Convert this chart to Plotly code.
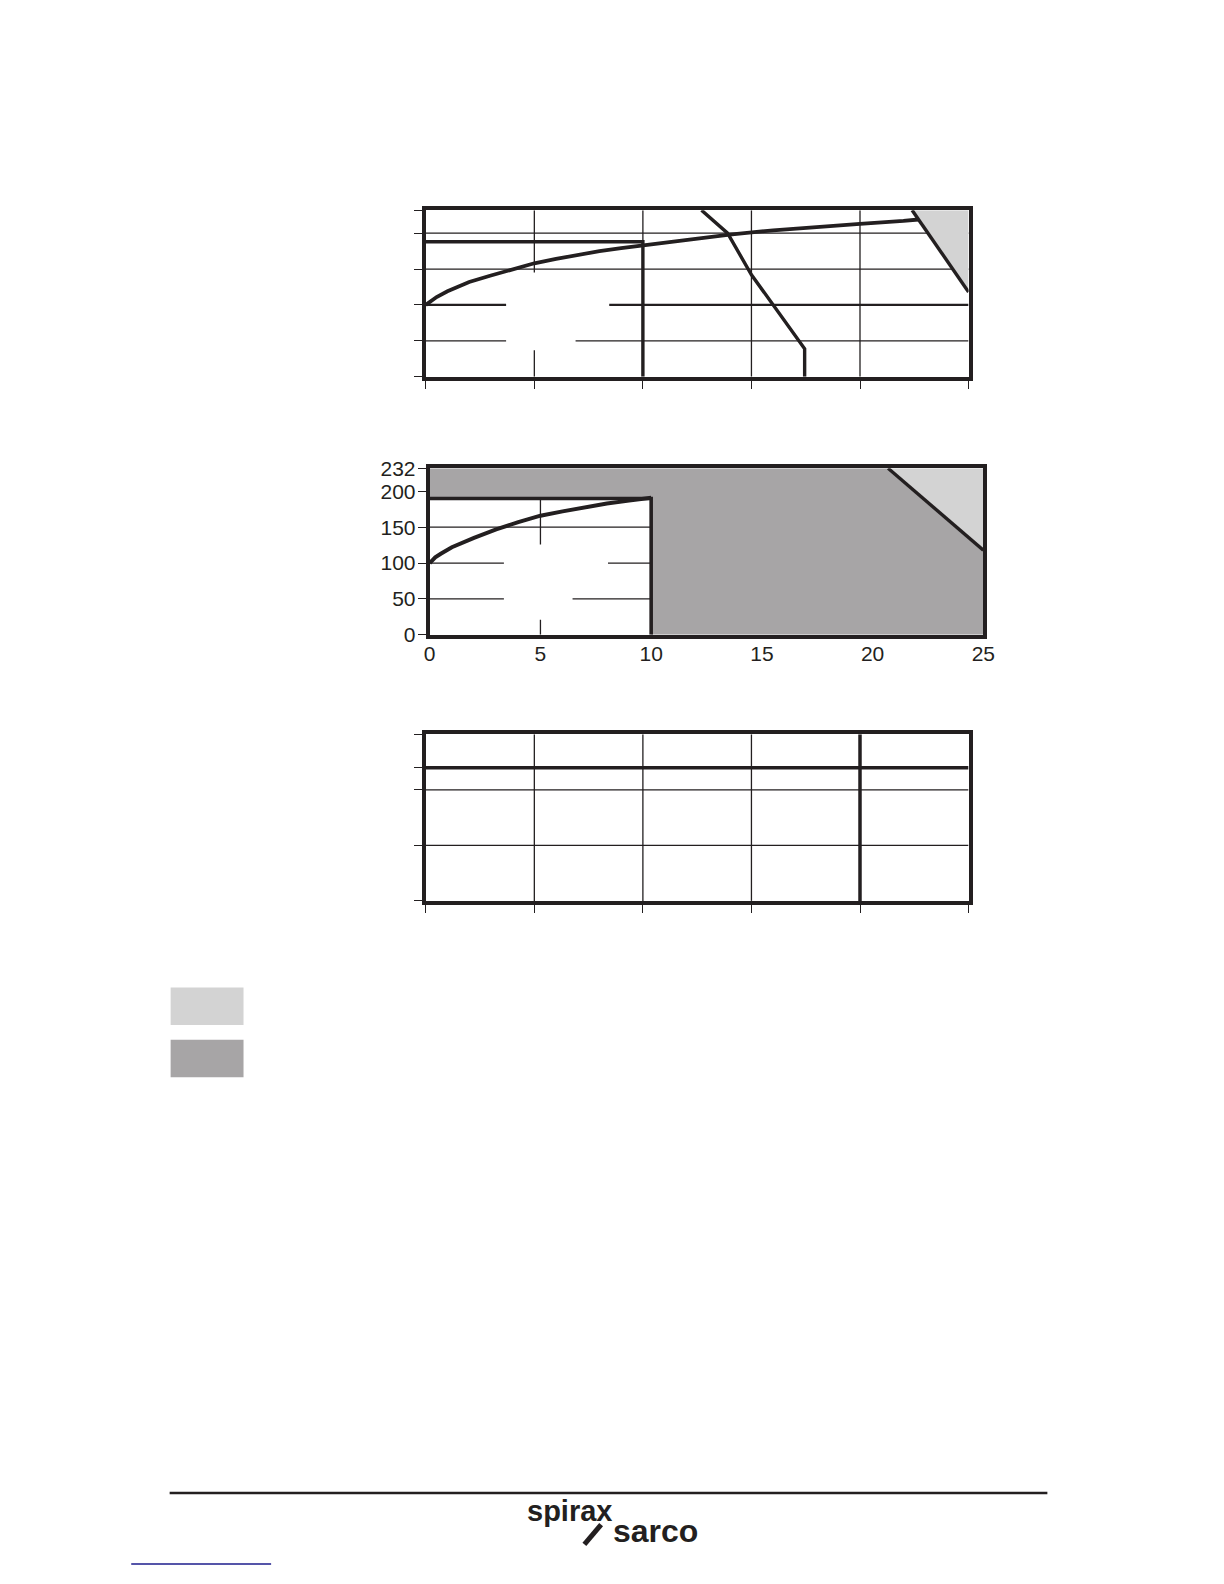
import plotly.graph_objects as go

INK = "#231f20"
LIGHT = "#d3d3d3"
DARK = "#a7a5a6"

# ---------- data ----------
x_ticks = [0, 5, 10, 15, 20, 25]
y_ticks_top = [0, 50, 100, 150, 200, 232]
y_ticks_mid = [0, 50, 100, 150, 200, 232]
y_tick_text_mid = ["0", "50", "100", "150", "200", "232"]
x_tick_text_mid = ["0", "5", "10", "15", "20", "25"]
y_ticks_bot = [0, 100, 200, 240, 300]

# top chart: saturation-type curve
sat_x = [0, 0.5, 1, 2, 3, 4, 5, 6, 7, 8, 9, 10, 12, 14, 16, 18, 20, 22, 22.7]
sat_y = [100, 111, 119, 132, 141, 150, 158, 164, 170, 175, 179, 183, 191, 198, 204, 209, 213, 217, 219]
# top chart: second limit curve
lim_x = [12.7, 13.9, 15.0, 17.45, 17.45]
lim_y = [232, 200, 142, 39, 0]
# top chart: box limit
top_box_x = [0, 10, 10]
top_box_y = [188, 188, 0]
# top chart: light triangle
top_tri_x = [22.4, 25, 25]
top_tri_y = [232, 118, 232]

# middle chart curve
mid_x = [0, 0.25, 0.5, 1, 2, 3, 4, 5, 6, 7, 8, 9, 10]
mid_y = [100, 108, 113, 122, 135, 147, 157, 166, 172, 178, 183, 187, 191]
mid_box_x = [0, 10, 10]
mid_box_y = [190, 190, 0]
mid_dark_x = [0, 10, 10, 25, 25, 20.7, 0]
mid_dark_y = [190, 190, 0, 0, 118, 232, 232]
mid_tri_x = [20.7, 25, 25]
mid_tri_y = [232, 118, 232]

# grid segments (value, from, to)
top_grid_h = [(200, 0, 25), (150, 0, 25), (100, 0, 3.7), (100, 8.45, 25), (50, 0, 3.7), (50, 6.9, 25)]
top_grid_v = [(5, 145, 232), (5, 0, 37), (10, 188, 232), (15, 0, 232), (20, 0, 232)]
mid_grid_h = [(150, 0, 10), (100, 0, 3.35), (100, 8.05, 10), (50, 0, 3.35), (50, 6.45, 10)]
mid_grid_v = [(5, 126, 190), (5, 0, 21)]
bot_grid_h = [(100, 0, 25, 1.3), (200, 0, 25, 1.3), (240, 0, 25, 3.5)]
bot_grid_v = [(5, 0, 300, 1.3), (10, 0, 300, 1.3), (15, 0, 300, 1.3), (20, 0, 300, 3.5)]

# ---------- figure (page has an 8px body margin) ----------
FW, FH, OFF = 1208, 1568, 8
def px_x(p):
    return (p - OFF) / FW
def px_y(p):
    return 1 - (p - OFF) / FH

fig = go.Figure()

def line_trace(x, y, xa, ya, width=3.5, color=INK):
    fig.add_trace(go.Scatter(x=x, y=y, mode="lines", xaxis=xa, yaxis=ya,
                             line=dict(color=color, width=width), hoverinfo="skip",
                             showlegend=False))

def fill_trace(x, y, xa, ya, color):
    fig.add_trace(go.Scatter(x=x, y=y, mode="lines", fill="toself", fillcolor=color,
                             xaxis=xa, yaxis=ya, line=dict(width=0, color=color),
                             hoverinfo="skip", showlegend=False))

# top chart
fill_trace(top_tri_x, top_tri_y, "x", "y", LIGHT)
line_trace(sat_x, sat_y, "x", "y", 3.8)
line_trace(lim_x, lim_y, "x", "y", 3.4)
line_trace(top_box_x, top_box_y, "x", "y", 3.4)
line_trace(top_tri_x[:2], top_tri_y[:2], "x", "y", 3.4)

# middle chart
fill_trace(mid_dark_x, mid_dark_y, "x2", "y2", DARK)
fill_trace(mid_tri_x, mid_tri_y, "x2", "y2", LIGHT)
line_trace(mid_x, mid_y, "x2", "y2", 4)
line_trace(mid_box_x, mid_box_y, "x2", "y2", 3.6)
line_trace(mid_tri_x[:2], mid_tri_y[:2], "x2", "y2", 3.4)

# bottom chart (invisible marker to activate axes)
fig.add_trace(go.Scatter(x=[0], y=[0], mode="markers", marker=dict(opacity=0),
                         xaxis="x3", yaxis="y3", hoverinfo="skip", showlegend=False))

shapes = []
def seg(xr, yr, x0, y0, x1, y1, w):
    shapes.append(dict(type="line", xref=xr, yref=yr, x0=x0, y0=y0, x1=x1, y1=y1,
                       line=dict(color=INK, width=w), layer="below"))

for v, a, b in top_grid_h:
    seg("x", "y", a, v, b, v, 2.4 if v == 100 else 1.3)
for v, a, b in top_grid_v:
    seg("x", "y", v, a, v, b, 1.3)
for v, a, b in mid_grid_h:
    seg("x2", "y2", a, v, b, v, 1.3)
for v, a, b in mid_grid_v:
    seg("x2", "y2", v, a, v, b, 1.3)
for v, a, b, w in bot_grid_h:
    seg("x3", "y3", a, v, b, v, w)
for v, a, b, w in bot_grid_v:
    seg("x3", "y3", v, a, v, b, w)

# legend swatches
shapes.append(dict(type="rect", xref="paper", yref="paper", x0=px_x(167), x1=px_x(241),
                   y0=px_y(1028), y1=px_y(990), fillcolor=LIGHT, line=dict(width=0)))
shapes.append(dict(type="rect", xref="paper", yref="paper", x0=px_x(167), x1=px_x(241),
                   y0=px_y(1081), y1=px_y(1043), fillcolor=DARK, line=dict(width=0)))
# footer rule
shapes.append(dict(type="line", xref="paper", yref="paper", x0=px_x(166), x1=px_x(1057),
                   y0=px_y(1503), y1=px_y(1503), line=dict(color=INK, width=2.5)))
# link underline
shapes.append(dict(type="line", xref="paper", yref="paper", x0=px_x(127), x1=px_x(269),
                   y0=px_y(1575), y1=px_y(1575), line=dict(color="#1c1c8c", width=1.5)))
# logo slash
shapes.append(dict(type="line", xref="paper", yref="paper", x0=px_x(587), x1=px_x(604),
                   y0=px_y(1555), y1=px_y(1535), line=dict(color=INK, width=5)))

fig.update_layout(shapes=shapes)

font = dict(family="Liberation Sans, Arial, sans-serif", size=21, color=INK)

def axis_common(**kw):
    d = dict(showgrid=False, zeroline=False, showline=True, mirror=True,
             linecolor=INK, linewidth=4, ticks="outside", ticklen=8,
             tickwidth=1.3, tickcolor=INK, fixedrange=True)
    d.update(kw)
    return d

fig.update_layout(
    width=FW, height=FH, margin=dict(l=0, r=0, t=0, b=0),
    paper_bgcolor="white", plot_bgcolor="white", font=font,
    xaxis=axis_common(domain=[px_x(426), px_x(977)], range=[0, 25], tickvals=x_ticks,
                      showticklabels=False, anchor="y"),
    yaxis=axis_common(domain=[px_y(370), px_y(201)], range=[0, 232], tickvals=y_ticks_top,
                      showticklabels=False, anchor="x"),
    xaxis2=axis_common(domain=[px_x(430), px_x(992)], range=[0, 25], tickvals=x_ticks,
                       ticktext=x_tick_text_mid, ticklen=1, ticklabelstandoff=-4,
                       tickcolor="rgba(0,0,0,0)", anchor="y2", tickfont=font),
    yaxis2=axis_common(domain=[px_y(632), px_y(463)], range=[0, 232], tickvals=y_ticks_mid,
                       ticktext=y_tick_text_mid, ticklen=8, ticklabelstandoff=-2,
                       anchor="x2", tickfont=font),
    xaxis3=axis_common(domain=[px_x(426), px_x(977)], range=[0, 25], tickvals=x_ticks,
                       showticklabels=False, anchor="y3"),
    yaxis3=axis_common(domain=[px_y(902), px_y(733)], range=[0, 300], tickvals=y_ticks_bot,
                       showticklabels=False, anchor="x3"),
)

fig.add_annotation(xref="paper", yref="paper", x=px_x(617), y=px_y(1521), xanchor="right",
                   yanchor="middle", text="<b>spirax</b>", showarrow=False,
                   font=dict(family="Liberation Sans, Arial, sans-serif", size=29, color=INK))
fig.add_annotation(xref="paper", yref="paper", x=px_x(614), y=px_y(1541), xanchor="left",
                   yanchor="middle", text="<b>sarco</b>", showarrow=False,
                   font=dict(family="Liberation Sans, Arial, sans-serif", size=32, color=INK))

fig.write_html("out.html")
